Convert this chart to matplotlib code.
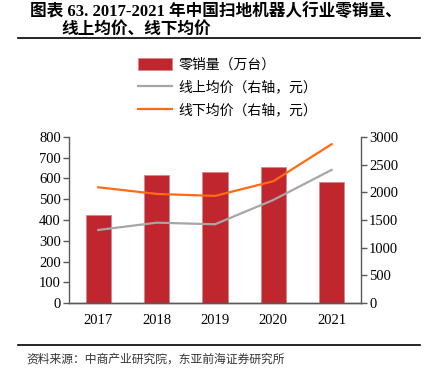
import matplotlib.pyplot as plt
import matplotlib.lines as mlines

years = ['2017', '2018', '2019', '2020', '2021']
sales = [424, 617, 631, 657, 582]          # 零销量（万台）
online_price = [1319, 1451, 1422, 1861, 2404]   # 线上均价（元）
offline_price = [2090, 1970, 1934, 2199, 2868]  # 线下均价（元）

cjk = ['Liberation Serif', 'Noto Sans CJK SC']
serif = 'Liberation Serif'

fig = plt.figure(figsize=(4.24, 3.76), dpi=100)
ax = fig.add_axes([0.163, 0.194, 0.688, 0.442])
ax2 = ax.twinx()

x = range(len(years))
bars = ax.bar(x, sales, width=0.43, color='#C0262E', edgecolor='#D9868A', linewidth=0.6, zorder=2)
l1, = ax2.plot(x, online_price, color='#A6A6A6', lw=1.6)
l2, = ax2.plot(x, offline_price, color='#FF6A13', lw=1.6)

ax.set_xlim(-0.5, 4.5)
ax.set_ylim(0, 800)
ax.set_yticks(range(0, 801, 100))
ax2.set_ylim(0, 3000)
ax2.set_yticks(range(0, 3001, 500))
ax.set_xticks(list(x))
ax.set_xticklabels(years)

for a in (ax, ax2):
    a.spines['top'].set_visible(False)
    for s in a.spines.values():
        s.set_color('#595959')
        s.set_linewidth(1.0)
    a.tick_params(axis='y', length=4, width=1, color='#595959', labelsize=10.5, pad=2)
    for lab in a.get_yticklabels():
        lab.set_fontfamily(serif)
ax.spines['right'].set_visible(False)
ax2.spines['left'].set_visible(False)
ax.tick_params(axis='x', length=0, labelsize=10.5, pad=8)
for lab in ax.get_xticklabels():
    lab.set_fontfamily(serif)

handles = [bars, l1, l2]
labels = ['零销量（万台）', '线上均价（右轴，元）', '线下均价（右轴，元）']
fig.legend(handles, labels, loc='upper left', bbox_to_anchor=(0.31, 0.863),
           frameon=False, prop={'family': cjk, 'size': 10}, handlelength=2.4,
           handleheight=0.9, labelspacing=0.62, handletextpad=0.5, borderpad=0)

fig.text(0.07, 0.992, '图表 63. 2017-2021 年中国扫地机器人行业零销量、', family=cjk,
         fontsize=12, fontweight='bold', va='top', ha='left')
fig.text(0.146, 0.943, '线上均价、线下均价', family=cjk,
         fontsize=12, fontweight='bold', va='top', ha='left')
fig.add_artist(mlines.Line2D([0.042, 0.99], [0.899, 0.899], color='black', lw=1.2))
fig.add_artist(mlines.Line2D([0.042, 0.99], [0.083, 0.083], color='black', lw=1.2))
fig.text(0.063, 0.06, '资料来源：中商产业研究院，东亚前海证券研究所', family=cjk,
         fontsize=8.5, color='#333333', va='top', ha='left')

fig.savefig('out.png', dpi=100)
